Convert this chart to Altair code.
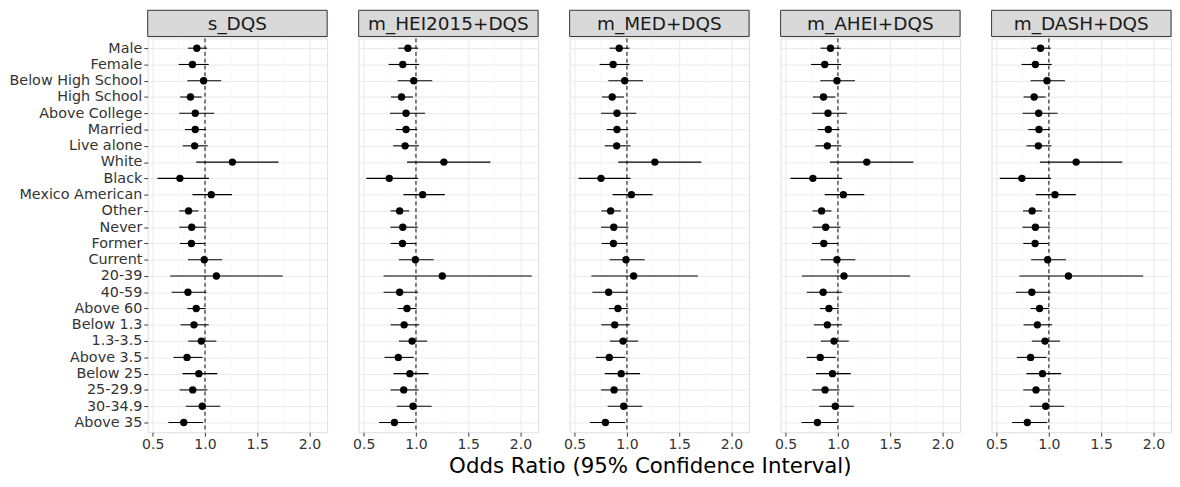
import altair as alt
import pandas as pd

categories = ["Male", "Female", "Below High School", "High School", "Above College",
              "Married", "Live alone", "White", "Black", "Mexico American", "Other",
              "Never", "Former", "Current", "20-39", "40-59", "Above 60",
              "Below 1.3", "1.3-3.5", "Above 3.5", "Below 25", "25-29.9", "30-34.9", "Above 35"]

models = ["s_DQS", "m_HEI2015+DQS", "m_MED+DQS", "m_AHEI+DQS", "m_DASH+DQS"]

s_dqs_or = [0.922, 0.880, 0.987, 0.861, 0.907, 0.907, 0.901, 1.262, 0.760, 1.060, 0.843,
            0.873, 0.870, 0.993, 1.109, 0.837, 0.916, 0.895, 0.965, 0.828, 0.941, 0.883, 0.974, 0.797]
s_dqs_lo = [0.837, 0.748, 0.831, 0.763, 0.754, 0.809, 0.788, 0.916, 0.546, 0.880, 0.754,
            0.754, 0.760, 0.837, 0.668, 0.681, 0.831, 0.766, 0.840, 0.699, 0.785, 0.757, 0.818, 0.650]
s_dqs_hi = [1.020, 1.036, 1.155, 0.968, 1.088, 1.011, 1.026, 1.703, 1.039, 1.259, 0.938,
            1.014, 0.999, 1.164, 1.743, 1.014, 1.005, 1.036, 1.109, 0.977, 1.118, 1.023, 1.146, 0.981]

hei_or = [0.923, 0.874, 0.979, 0.862, 0.905, 0.905, 0.896, 1.267, 0.745, 1.064, 0.844,
          0.874, 0.871, 0.994, 1.252, 0.844, 0.914, 0.887, 0.963, 0.831, 0.942, 0.883, 0.972, 0.794]
hei_lo = [0.831, 0.739, 0.825, 0.761, 0.752, 0.807, 0.782, 0.914, 0.525, 0.880, 0.758,
          0.755, 0.758, 0.837, 0.690, 0.690, 0.825, 0.758, 0.837, 0.699, 0.785, 0.758, 0.816, 0.647]
hei_hi = [1.021, 1.031, 1.156, 0.972, 1.086, 1.012, 1.028, 1.712, 1.021, 1.276, 0.936,
          1.018, 1.000, 1.169, 2.107, 1.021, 1.006, 1.031, 1.107, 0.979, 1.120, 1.025, 1.150, 0.985]

med_or = [0.926, 0.868, 0.979, 0.859, 0.905, 0.905, 0.902, 1.267, 0.752, 1.043, 0.844,
          0.874, 0.871, 0.991, 1.064, 0.825, 0.914, 0.883, 0.963, 0.831, 0.945, 0.877, 0.969, 0.794]
med_lo = [0.834, 0.739, 0.822, 0.761, 0.752, 0.807, 0.788, 0.917, 0.537, 0.862, 0.755,
          0.752, 0.758, 0.834, 0.660, 0.669, 0.828, 0.755, 0.837, 0.702, 0.788, 0.752, 0.816, 0.647]
med_hi = [1.025, 1.025, 1.153, 0.972, 1.089, 1.012, 1.034, 1.712, 1.034, 1.245, 0.942,
          1.015, 1.000, 1.169, 1.678, 1.003, 1.012, 1.028, 1.107, 0.985, 1.126, 1.018, 1.147, 0.982]

ahei_or = [0.929, 0.874, 0.991, 0.862, 0.905, 0.908, 0.899, 1.276, 0.761, 1.052, 0.844,
           0.883, 0.865, 0.991, 1.058, 0.859, 0.914, 0.899, 0.963, 0.831, 0.948, 0.877, 0.975, 0.804]
ahei_lo = [0.834, 0.742, 0.831, 0.761, 0.752, 0.807, 0.785, 0.923, 0.546, 0.874, 0.758,
           0.758, 0.752, 0.834, 0.656, 0.702, 0.828, 0.770, 0.837, 0.702, 0.791, 0.755, 0.822, 0.653]
ahei_hi = [1.028, 1.031, 1.163, 0.975, 1.086, 1.015, 1.031, 1.721, 1.040, 1.252, 0.939,
           1.025, 1.000, 1.166, 1.690, 1.040, 1.009, 1.040, 1.104, 0.979, 1.123, 1.015, 1.153, 0.997]

dash_or = [0.920, 0.871, 0.982, 0.859, 0.902, 0.905, 0.899, 1.261, 0.742, 1.058, 0.840,
           0.871, 0.868, 0.988, 1.187, 0.837, 0.911, 0.890, 0.963, 0.825, 0.939, 0.877, 0.969, 0.794]
dash_lo = [0.831, 0.739, 0.825, 0.758, 0.748, 0.804, 0.785, 0.914, 0.531, 0.874, 0.752,
           0.748, 0.755, 0.831, 0.718, 0.684, 0.825, 0.758, 0.837, 0.693, 0.785, 0.755, 0.816, 0.647]
dash_hi = [1.018, 1.028, 1.153, 0.969, 1.083, 1.009, 1.025, 1.702, 1.021, 1.258, 0.936,
           1.012, 0.994, 1.163, 1.902, 1.015, 1.003, 1.031, 1.107, 0.979, 1.117, 1.018, 1.147, 0.985]

x_ticks = [0.5, 1.0, 1.5, 2.0]
x_minor = [0.75, 1.25, 1.75]
ref_value = 1.0
x_domain = [0.452, 2.168]
x_title = "Odds Ratio (95% Confidence Interval)"

series = {
    "s_DQS": (s_dqs_or, s_dqs_lo, s_dqs_hi),
    "m_HEI2015+DQS": (hei_or, hei_lo, hei_hi),
    "m_MED+DQS": (med_or, med_lo, med_hi),
    "m_AHEI+DQS": (ahei_or, ahei_lo, ahei_hi),
    "m_DASH+DQS": (dash_or, dash_lo, dash_hi),
}

FONT = "DejaVu Sans"
PW = 185
PH = 406
SH = 27
LBL = "#333333"

xscale = alt.Scale(domain=x_domain, nice=False, zero=False)
yscale = alt.Scale(type="point", padding=0.6)
minor_df = pd.DataFrame({"v": x_minor})

panels = []
for i, m in enumerate(models):
    est, lo, hi = series[m]
    df = pd.DataFrame({"cat": categories, "est": est, "lo": lo, "hi": hi})
    first = i == 0
    xaxis = alt.Axis(values=x_ticks, format=".1f", grid=True, gridColor="#EBEBEB",
                     gridWidth=1.1, domain=False, tickColor="#333333", tickSize=4,
                     labelPadding=2, labelFontSize=14.5, labelColor=LBL,
                     labelFont=FONT, title=None)
    yaxis = alt.Axis(title=None, grid=True, gridColor="#EBEBEB", gridWidth=1.1,
                     domain=False, labels=first, ticks=first, tickColor="#333333",
                     tickSize=4, labelPadding=2, labelFontSize=14.8,
                     labelColor=LBL, labelFont=FONT)

    base = alt.Chart(df)
    minor = alt.Chart(minor_df).mark_rule(color="#F2F2F2", strokeWidth=0.6).encode(
        x=alt.X("v:Q", scale=xscale, axis=xaxis))
    bars = base.mark_rule(color="black", strokeWidth=1.1).encode(
        x=alt.X("lo:Q", scale=xscale, axis=xaxis),
        x2="hi:Q",
        y=alt.Y("cat:N", sort=categories, scale=yscale, axis=yaxis))
    refline = alt.Chart(pd.DataFrame({"r": [ref_value]})).mark_rule(
        color="black", strokeWidth=1, strokeDash=[4, 3]).encode(
        x=alt.X("r:Q", scale=xscale, axis=xaxis))
    pts = base.mark_circle(size=58, color="black", opacity=1).encode(
        x=alt.X("est:Q", scale=xscale, axis=xaxis),
        y=alt.Y("cat:N", sort=categories, scale=yscale, axis=yaxis))
    panel = alt.layer(minor, bars, refline, pts).properties(width=PW, height=PH)

    strip_df = pd.DataFrame({"t": [m]})
    strip_rect = alt.Chart(strip_df).mark_rect(fill="#D9D9D9", stroke="#333333",
                                               strokeWidth=1).encode(
        x=alt.value(0), x2=alt.value(PW), y=alt.value(0), y2=alt.value(SH))
    strip_text = alt.Chart(strip_df).mark_text(font=FONT, fontSize=19, color="#1A1A1A",
                                               baseline="middle", align="center").encode(
        text="t:N", x=alt.value(PW / 2), y=alt.value(SH / 2 + 1))
    strip = alt.layer(strip_rect, strip_text).properties(width=PW, height=SH)

    panels.append(alt.vconcat(strip, panel, spacing=0))

chart = alt.hconcat(*panels, spacing=24.5).properties(
    padding={"top": -6, "left": 0, "right": 0, "bottom": 0},
    title=alt.TitleParams(x_title, orient="bottom", anchor="middle", fontSize=22,
                          font=FONT, fontWeight="normal", color="black", offset=5,
                          dx=62)
).configure_view(stroke="#333333", strokeWidth=1).configure(font=FONT)

chart.save("out.html", embed_options={"renderer": "svg", "actions": False})
